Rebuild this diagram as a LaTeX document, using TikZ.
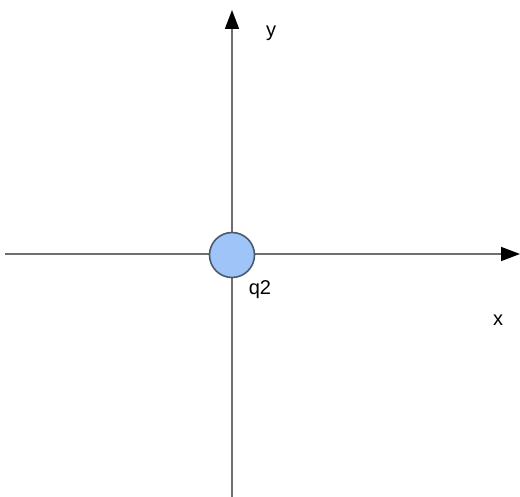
\documentclass[tikz,border=0pt]{standalone}
\usepackage{fontspec}
\setmainfont{Liberation Sans}
\usetikzlibrary{arrows.meta}
\definecolor{axisgray}{HTML}{6E6E6E}
\definecolor{qfill}{HTML}{9FC5F8}
\definecolor{qedge}{HTML}{4A5A6E}
\begin{document}
\begin{tikzpicture}[x=1pt,y=-1pt,
  axis/.style={draw=axisgray,line width=1.6pt,-{Triangle[length=19pt,width=14pt,fill=black,color=black]}},
  lbl/.style={font=\fontsize{20}{22}\selectfont,text=black,inner sep=0pt}]
\useasboundingbox (0,0) rectangle (520,497);
\coordinate (xs) at (5,254);
\coordinate (xe) at (520,254);
\coordinate (ys) at (232,497);
\coordinate (ye) at (232,10);
\draw[axis] (xs) -- (xe);
\draw[axis] (ys) -- (ye);
\node[circle,minimum size=45pt,inner sep=0pt,fill=qfill,draw=qedge,line width=1.6pt] (q) at (232,255) {};
\node[lbl] (ql) at (260,290) {q2};
\node[lbl] (yl) at (271,33) {y};
\node[lbl] (xl) at (498,320) {x};
\end{tikzpicture}
\end{document}
